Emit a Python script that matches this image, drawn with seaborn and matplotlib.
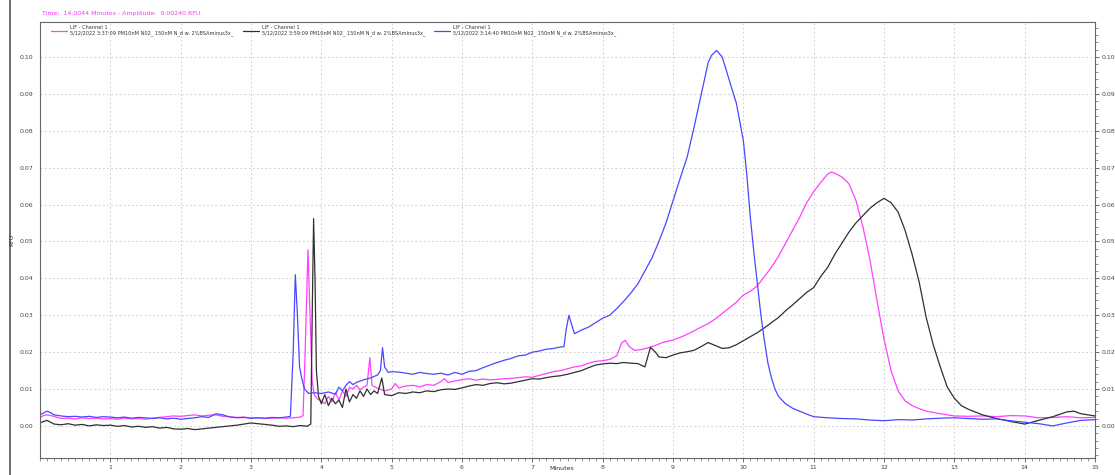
import matplotlib
matplotlib.use("Agg")
import matplotlib.pyplot as plt
from matplotlib.lines import Line2D
from matplotlib.ticker import MultipleLocator, FormatStrFormatter
import seaborn as sns
import pandas as pd

# ---------------- data ----------------
blue_t = [0.00, 0.05, 0.10, 0.15, 0.20, 0.30, 0.40, 0.50, 0.60, 0.70, 0.80, 0.90, 1.00, 1.10, 1.20, 1.30,
          1.40, 1.50, 1.60, 1.70, 1.80, 1.90, 2.00, 2.10, 2.20, 2.30, 2.40, 2.50, 2.60, 2.70, 2.80, 2.90,
          3.00, 3.10, 3.20, 3.30, 3.40, 3.50, 3.56, 3.60, 3.63, 3.66, 3.69, 3.72, 3.76, 3.82, 3.90, 4.00,
          4.10, 4.20, 4.25, 4.30, 4.35, 4.40, 4.45, 4.50, 4.60, 4.70, 4.80, 4.84, 4.87, 4.90, 4.95, 5.00,
          5.10, 5.20, 5.30, 5.40, 5.50, 5.60, 5.70, 5.80, 5.90, 6.00, 6.10, 6.20, 6.30, 6.40, 6.50, 6.60,
          6.70, 6.80, 6.90, 7.00, 7.10, 7.20, 7.30, 7.40, 7.45, 7.48, 7.52, 7.55, 7.60, 7.65, 7.70, 7.80,
          7.90, 8.00, 8.10, 8.20, 8.30, 8.40, 8.50, 8.60, 8.70, 8.80, 8.90, 9.00, 9.10, 9.20, 9.30, 9.40,
          9.50, 9.55, 9.62, 9.70, 9.80, 9.90, 10.00, 10.05, 10.10, 10.15, 10.20, 10.25, 10.30, 10.35, 10.40,
          10.45, 10.50, 10.60, 10.70, 10.80, 10.90, 11.00, 11.20, 11.40, 11.60, 11.80, 12.00, 12.20, 12.40,
          12.60, 12.80, 13.00, 13.20, 13.40, 13.60, 13.80, 14.00, 14.20, 14.40, 14.60, 14.80, 15.00]
blue_v = [0.0030, 0.0035, 0.0040, 0.0036, 0.0030, 0.0027, 0.0025, 0.0026, 0.0024, 0.0026, 0.0023, 0.0025,
          0.0024, 0.0022, 0.0024, 0.0021, 0.0023, 0.0022, 0.0020, 0.0022, 0.0019, 0.0021, 0.0018, 0.0020,
          0.0022, 0.0025, 0.0023, 0.0033, 0.0030, 0.0024, 0.0022, 0.0023, 0.0021, 0.0022, 0.0021, 0.0023,
          0.0022, 0.0024, 0.0026, 0.0200, 0.0410, 0.0300, 0.0160, 0.0130, 0.0100, 0.0088, 0.0090, 0.0088,
          0.0092, 0.0086, 0.0105, 0.0095, 0.0110, 0.0120, 0.0112, 0.0118, 0.0125, 0.0130, 0.0138, 0.0150,
          0.0212, 0.0160, 0.0145, 0.0147, 0.0146, 0.0143, 0.0140, 0.0145, 0.0142, 0.0140, 0.0143, 0.0138,
          0.0145, 0.0140, 0.0148, 0.0150, 0.0158, 0.0165, 0.0172, 0.0178, 0.0183, 0.0190, 0.0192, 0.0200,
          0.0203, 0.0208, 0.0210, 0.0214, 0.0215, 0.0260, 0.0300, 0.0280, 0.0250, 0.0255, 0.0260, 0.0268,
          0.0280, 0.0292, 0.0300, 0.0318, 0.0338, 0.0360, 0.0385, 0.0420, 0.0455, 0.0500, 0.0550, 0.0610,
          0.0670, 0.0728, 0.0810, 0.0897, 0.0985, 0.1005, 0.1018, 0.1000, 0.0937, 0.0875, 0.0774, 0.0680,
          0.0565, 0.0470, 0.0385, 0.0300, 0.0230, 0.0170, 0.0130, 0.0100, 0.0080, 0.0060, 0.0048, 0.0040,
          0.0032, 0.0025, 0.0022, 0.0020, 0.0019, 0.0016, 0.0014, 0.0017, 0.0016, 0.0019, 0.0021, 0.0022,
          0.0020, 0.0018, 0.0019, 0.0014, 0.0010, 0.0006, 0.0000, 0.0008, 0.0015, 0.0017]

magenta_t = [0.00, 0.05, 0.10, 0.20, 0.30, 0.40, 0.50, 0.60, 0.70, 0.80, 0.90, 1.00, 1.10, 1.20, 1.30, 1.40,
             1.50, 1.60, 1.70, 1.80, 1.90, 2.00, 2.10, 2.20, 2.30, 2.40, 2.50, 2.60, 2.70, 2.80, 2.90, 3.00,
             3.10, 3.20, 3.30, 3.40, 3.50, 3.60, 3.70, 3.74, 3.77, 3.81, 3.84, 3.87, 3.90, 3.95, 4.00, 4.05,
             4.10, 4.15, 4.20, 4.25, 4.30, 4.35, 4.40, 4.45, 4.50, 4.55, 4.60, 4.65, 4.69, 4.72, 4.80, 4.90,
             5.00, 5.05, 5.10, 5.20, 5.30, 5.40, 5.50, 5.60, 5.70, 5.75, 5.80, 5.90, 6.00, 6.10, 6.20, 6.30,
             6.40, 6.50, 6.60, 6.70, 6.80, 6.90, 7.00, 7.10, 7.20, 7.30, 7.40, 7.50, 7.60, 7.70, 7.80, 7.90,
             8.00, 8.10, 8.20, 8.27, 8.32, 8.38, 8.45, 8.55, 8.65, 8.75, 8.85, 9.00, 9.10, 9.20, 9.30, 9.40,
             9.50, 9.60, 9.70, 9.80, 9.90, 10.00, 10.10, 10.20, 10.30, 10.40, 10.50, 10.60, 10.70, 10.80,
             10.90, 11.00, 11.10, 11.20, 11.25, 11.30, 11.40, 11.50, 11.60, 11.70, 11.80, 11.90, 12.00,
             12.10, 12.20, 12.30, 12.40, 12.50, 12.60, 12.80, 13.00, 13.20, 13.40, 13.60, 13.80, 14.00,
             14.20, 14.40, 14.60, 14.80, 15.00]
magenta_v = [0.0022, 0.0028, 0.0030, 0.0026, 0.0020, 0.0021, 0.0019, 0.0022, 0.0020, 0.0021, 0.0019, 0.0020,
             0.0018, 0.0021, 0.0019, 0.0020, 0.0018, 0.0021, 0.0023, 0.0025, 0.0027, 0.0026, 0.0028, 0.0030,
             0.0027, 0.0029, 0.0030, 0.0026, 0.0025, 0.0023, 0.0024, 0.0021, 0.0022, 0.0020, 0.0021, 0.0022,
             0.0021, 0.0022, 0.0024, 0.0028, 0.0200, 0.0478, 0.0300, 0.0120, 0.0085, 0.0072, 0.0068, 0.0060,
             0.0080, 0.0065, 0.0090, 0.0070, 0.0095, 0.0080, 0.0105, 0.0100, 0.0110, 0.0098, 0.0105, 0.0110,
             0.0185, 0.0110, 0.0102, 0.0095, 0.0100, 0.0115, 0.0103, 0.0108, 0.0110, 0.0106, 0.0112, 0.0110,
             0.0120, 0.0128, 0.0118, 0.0122, 0.0125, 0.0128, 0.0124, 0.0127, 0.0125, 0.0126, 0.0128, 0.0129,
             0.0131, 0.0133, 0.0132, 0.0137, 0.0142, 0.0147, 0.0150, 0.0155, 0.0160, 0.0163, 0.0170, 0.0175,
             0.0177, 0.0180, 0.0190, 0.0225, 0.0232, 0.0215, 0.0205, 0.0207, 0.0212, 0.0218, 0.0226, 0.0233,
             0.0240, 0.0248, 0.0258, 0.0268, 0.0277, 0.0290, 0.0305, 0.0320, 0.0335, 0.0355, 0.0365, 0.0380,
             0.0405, 0.0430, 0.0460, 0.0495, 0.0530, 0.0565, 0.0605, 0.0635, 0.0660, 0.0683, 0.0688, 0.0685,
             0.0675, 0.0657, 0.0612, 0.0540, 0.0450, 0.0340, 0.0235, 0.0150, 0.0095, 0.0068, 0.0055, 0.0047,
             0.0040, 0.0033, 0.0027, 0.0026, 0.0027, 0.0025, 0.0028, 0.0027, 0.0022, 0.0023, 0.0025, 0.0022,
             0.0023]

black_t = [0.00, 0.05, 0.10, 0.15, 0.20, 0.30, 0.40, 0.50, 0.60, 0.70, 0.80, 0.90, 1.00, 1.10, 1.20, 1.30,
           1.40, 1.50, 1.60, 1.70, 1.80, 1.90, 2.00, 2.10, 2.20, 2.30, 2.40, 2.50, 2.60, 2.70, 2.80, 2.90,
           3.00, 3.10, 3.20, 3.30, 3.40, 3.50, 3.60, 3.70, 3.80, 3.85, 3.87, 3.89, 3.91, 3.93, 3.96, 4.00,
           4.05, 4.10, 4.15, 4.20, 4.25, 4.30, 4.35, 4.40, 4.45, 4.50, 4.55, 4.60, 4.65, 4.70, 4.75, 4.80,
           4.86, 4.90, 5.00, 5.10, 5.20, 5.30, 5.40, 5.50, 5.60, 5.70, 5.80, 5.90, 6.00, 6.10, 6.20, 6.30,
           6.40, 6.50, 6.60, 6.70, 6.80, 6.90, 7.00, 7.10, 7.20, 7.30, 7.40, 7.50, 7.60, 7.70, 7.80, 7.90,
           8.00, 8.10, 8.20, 8.30, 8.40, 8.50, 8.60, 8.68, 8.75, 8.80, 8.90, 9.00, 9.10, 9.20, 9.30, 9.40,
           9.50, 9.60, 9.70, 9.80, 9.90, 10.00, 10.10, 10.20, 10.30, 10.40, 10.50, 10.60, 10.70, 10.80,
           10.90, 11.00, 11.10, 11.20, 11.30, 11.40, 11.50, 11.60, 11.70, 11.80, 11.90, 12.00, 12.10,
           12.20, 12.30, 12.40, 12.50, 12.60, 12.70, 12.80, 12.90, 13.00, 13.10, 13.20, 13.40, 13.60,
           13.80, 14.00, 14.20, 14.40, 14.60, 14.70, 14.80, 14.90, 15.00]
black_v = [0.0008, 0.0012, 0.0015, 0.0010, 0.0005, 0.0003, 0.0006, 0.0002, 0.0004, 0.0000, 0.0003, 0.0001,
           0.0002, -0.0001, 0.0001, -0.0003, -0.0001, -0.0004, -0.0002, -0.0006, -0.0004, -0.0008, -0.0009,
           -0.0007, -0.0010, -0.0008, -0.0006, -0.0004, -0.0002, 0.0000, 0.0002, 0.0005, 0.0008, 0.0006,
           0.0004, 0.0002, -0.0001, 0.0000, -0.0002, 0.0001, -0.0001, 0.0005, 0.0300, 0.0562, 0.0400,
           0.0150, 0.0080, 0.0060, 0.0085, 0.0055, 0.0075, 0.0060, 0.0070, 0.0050, 0.0100, 0.0065, 0.0085,
           0.0075, 0.0095, 0.0080, 0.0100, 0.0085, 0.0095, 0.0088, 0.0130, 0.0085, 0.0082, 0.0090, 0.0088,
           0.0092, 0.0090, 0.0095, 0.0093, 0.0098, 0.0100, 0.0099, 0.0103, 0.0108, 0.0112, 0.0110, 0.0115,
           0.0117, 0.0114, 0.0116, 0.0120, 0.0124, 0.0128, 0.0127, 0.0131, 0.0134, 0.0136, 0.0140, 0.0145,
           0.0150, 0.0158, 0.0165, 0.0168, 0.0170, 0.0169, 0.0172, 0.0170, 0.0169, 0.0160, 0.0213, 0.0200,
           0.0187, 0.0185, 0.0192, 0.0198, 0.0201, 0.0205, 0.0215, 0.0226, 0.0218, 0.0210, 0.0212, 0.0220,
           0.0231, 0.0242, 0.0253, 0.0266, 0.0280, 0.0294, 0.0312, 0.0328, 0.0345, 0.0362, 0.0375, 0.0405,
           0.0430, 0.0465, 0.0495, 0.0525, 0.0550, 0.0570, 0.0590, 0.0605, 0.0617, 0.0605, 0.0580, 0.0530,
           0.0465, 0.0390, 0.0294, 0.0220, 0.0160, 0.0105, 0.0075, 0.0055, 0.0045, 0.0030, 0.0020, 0.0012,
           0.0005, 0.0015, 0.0025, 0.0038, 0.0040, 0.0033, 0.0030, 0.0027]

series_names = ["LIF - Channel 1\n5/12/2022 3:37:09 PM10nM N02_ 150nM N_d w. 2%BSAminus3x_",
                "LIF - Channel 1\n5/12/2022 3:59:09 PM10nM N02_ 150nM N_d w. 2%BSAminus3x_",
                "LIF - Channel 1\n5/12/2022 3:14:40 PM10nM N02_ 150nM N_d w. 2%BSAminus3x_"]
series_colors = ["#ff40ff", "#303030", "#4848ff"]
title_text = "Time:  14.0044 Minutes - Amplitude:  0.00240 RFU"
x_ticks = list(range(1, 16))
y_ticks = [0.00, 0.01, 0.02, 0.03, 0.04, 0.05, 0.06, 0.07, 0.08, 0.09, 0.10]

# ---------------- build long-form frame ----------------
frames = []
for name, t, v in zip(series_names, [magenta_t, black_t, blue_t], [magenta_v, black_v, blue_v]):
    frames.append(pd.DataFrame({"Minutes": t, "RFU": v, "series": name}))
df = pd.concat(frames, ignore_index=True)

sns.set_style("white")
plt.rcParams["font.family"] = ["DejaVu Sans"]

fig = plt.figure(figsize=(11.15, 4.75), dpi=100)
ax = fig.add_axes([40 / 1115, 1 - 458 / 475, (1095 - 40) / 1115, (458 - 22) / 475])

sns.lineplot(data=df, x="Minutes", y="RFU", hue="series", hue_order=series_names,
             palette=dict(zip(series_names, series_colors)), estimator=None, sort=False,
             linewidth=0.9, ax=ax, legend=False)

ax.set_xlim(0, 15)
ax.set_ylim(-0.0087, 0.1095)
ax.set_xticks(x_ticks)
ax.set_xticklabels([str(x) for x in x_ticks])
ax.set_yticks(y_ticks)
ax.yaxis.set_major_formatter(FormatStrFormatter("%.2f"))
ax.xaxis.set_minor_locator(MultipleLocator(0.1))
ax.yaxis.set_minor_locator(MultipleLocator(0.002))
ax.tick_params(axis="both", which="major", direction="out", length=3, width=0.6,
               colors="#555555", labelsize=4.5, labelcolor="#444444", pad=2)
ax.tick_params(axis="both", which="minor", direction="out", length=1.8, width=0.5, colors="#666666")
ax.tick_params(axis="y", which="both", right=True, labelright=True)
ax.tick_params(axis="x", which="both", bottom=True)
ax.grid(True, which="major", linestyle=(0, (2, 3)), color="#c8c8c8", linewidth=0.6)

for side in ["left", "bottom", "right", "top"]:
    ax.spines[side].set_visible(True)
    ax.spines[side].set_color("#666666")
    ax.spines[side].set_linewidth(0.8)

ax.set_xlabel("")
ax.set_ylabel("")
fig.text(562 / 1115, 1 - 469 / 475, "Minutes", fontsize=4.5, color="#333333",
         ha="center", va="center")
fig.text(12 / 1115, 1 - 240 / 475, "RFU", rotation=90, fontsize=4.5, color="#333333",
         ha="center", va="center")

fig.text(42 / 1115, 1 - 13 / 475, title_text, fontsize=4.5, color="#ff30ff", ha="left", va="center")

# outer left border line of the original window
fig.add_artist(Line2D([10 / 1115, 10 / 1115], [0, 1], transform=fig.transFigure,
                      color="#555555", linewidth=1.2))

handles = [Line2D([0], [0], color=c, linewidth=0.9) for c in series_colors]
leg = ax.legend(handles, series_names, loc="upper left", ncol=3, frameon=False,
                fontsize=3.6, handlelength=3.2, handletextpad=0.6, columnspacing=1.8,
                bbox_to_anchor=(0.008, 1.0), borderaxespad=0.2, labelspacing=0.2)
for txt in leg.get_texts():
    txt.set_color("#333333")
    txt.set_linespacing(1.05)

fig.savefig("out.png", dpi=100)
